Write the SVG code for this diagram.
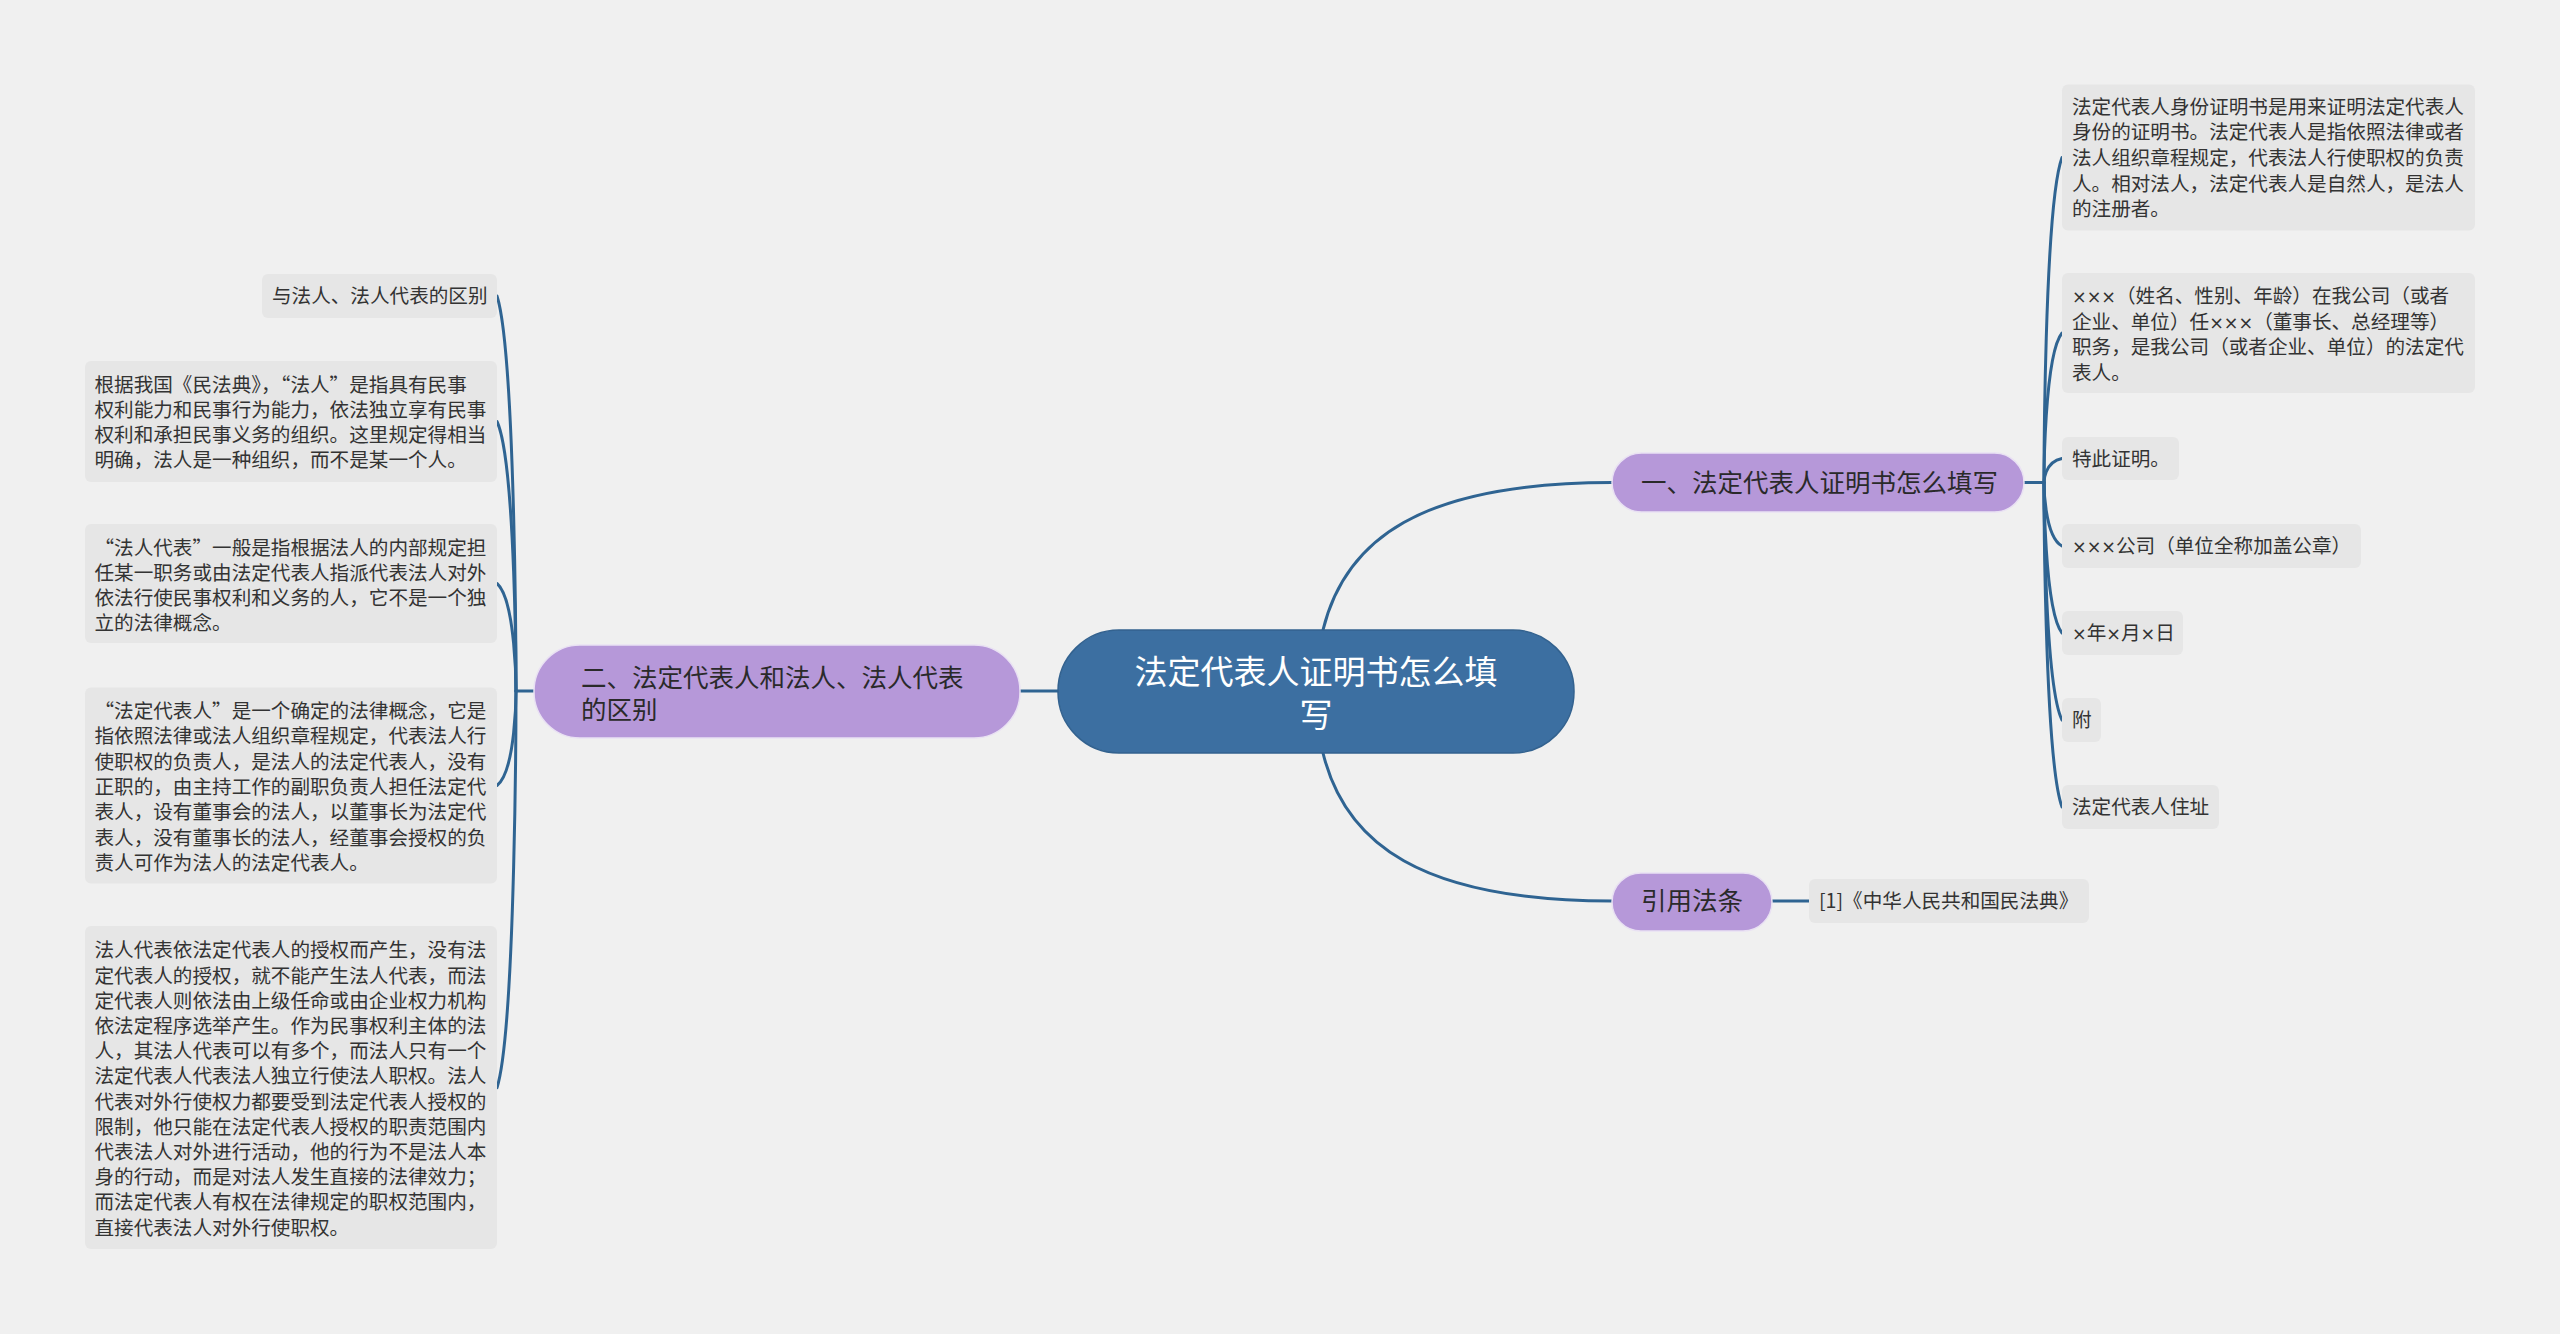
<svg xmlns="http://www.w3.org/2000/svg" width="2560" height="1334" viewBox="0 0 2560 1334">
<style>
.bg{fill:#f0f0f0}
.edge{fill:none;stroke:#2f6492;stroke-width:3;stroke-linecap:round}
.leaf{fill:#e6e6e6}
.lt{font-family:"Noto Sans CJK SC","Microsoft YaHei",sans-serif;font-size:19.6px;fill:#333333;font-feature-settings:"chws" 0,"halt" 0}
.x{font-family:"DejaVu Sans",sans-serif;font-size:17.5px}
.main{fill:#b698d9;stroke:#e9e1f3;stroke-width:1.5}
.mt{font-family:"Noto Sans CJK SC","Microsoft YaHei",sans-serif;font-size:25.5px;fill:#2a2a2a}
.root{fill:#3c6fa1;stroke:#33628f;stroke-width:1.5}
.rt{font-family:"Noto Sans CJK SC","Microsoft YaHei",sans-serif;font-size:33px;fill:#ffffff;text-anchor:middle}
</style>
<rect class="bg" x="0" y="0" width="2560" height="1334"/>

<g id="connectors">
<path class="edge" d="M1058 691H1020"/>
<path class="edge" d="M534 691H516"/>
<path class="edge" d="M516 691C516 691 516 355 497 296"/>
<path class="edge" d="M516 691C516 691 516 462 497 421.5"/>
<path class="edge" d="M516 691C516 691 516 600 497 583.5"/>
<path class="edge" d="M516 691C516 691 516 771 497 785.5"/>
<path class="edge" d="M516 691C516 691 516 1028 497 1087.7"/>
<path class="edge" d="M1323 630C1345 540 1420 482.5 1612 482.5"/>
<path class="edge" d="M1323 753C1345 843 1420 901 1612 901"/>
<path class="edge" d="M2024 482.5H2044"/>
<path class="edge" d="M2044 482.5C2044 482.5 2044 206 2062 157.5"/>
<path class="edge" d="M2044 482.5C2044 482.5 2044 355 2062 333"/>
<path class="edge" d="M2044 482.5C2044 482.5 2044 462 2062 458.5"/>
<path class="edge" d="M2044 482.5C2044 482.5 2044 536.5 2062 546"/>
<path class="edge" d="M2044 482.5C2044 482.5 2044 610 2062 633"/>
<path class="edge" d="M2044 482.5C2044 482.5 2044 684 2062 720"/>
<path class="edge" d="M2044 482.5C2044 482.5 2044 758 2062 807"/>
<path class="edge" d="M1772 901H1809"/>
</g>

<g id="root">
<rect class="root" x="1058" y="630" width="516" height="123" rx="61" ry="61"/>
<text class="rt" x="1316" y="684">法定代表人证明书怎么填</text>
<text class="rt" x="1316" y="727">写</text>
</g>

<g id="main-left">
<rect class="main" x="534" y="645" width="486" height="93" rx="46" ry="46"/>
<text class="mt" x="581" y="687">二、法定代表人和法人、法人代表</text>
<text class="mt" x="581" y="719">的区别</text>
</g>

<g id="main-right">
<rect class="main" x="1612" y="453" width="412" height="59" rx="29.5" ry="29.5"/>
<text class="mt" x="1641" y="492">一、法定代表人证明书怎么填写</text>
</g>

<g id="main-ref">
<rect class="main" x="1612" y="873" width="160" height="58" rx="29" ry="29"/>
<text class="mt" x="1692" y="910" text-anchor="middle">引用法条</text>
</g>

<g id="leaf-l1">
<rect class="leaf" x="262" y="274" width="235" height="44" rx="6"/>
<text class="lt" x="272" y="303">与法人、法人代表的区别</text>
</g>

<g id="leaf-l2">
<rect class="leaf" x="85" y="361" width="412" height="121" rx="6"/>
<text class="lt" x="94.5" y="392">根据我国《民法典》，“法人”是指具有民事</text>
<text class="lt" x="94.5" y="417">权利能力和民事行为能力，依法独立享有民事</text>
<text class="lt" x="94.5" y="442">权利和承担民事义务的组织。这里规定得相当</text>
<text class="lt" x="94.5" y="467">明确，法人是一种组织，而不是某一个人。</text>
</g>

<g id="leaf-l3">
<rect class="leaf" x="85" y="524" width="412" height="119" rx="6"/>
<text class="lt" x="94.5" y="555">“法人代表”一般是指根据法人的内部规定担</text>
<text class="lt" x="94.5" y="580">任某一职务或由法定代表人指派代表法人对外</text>
<text class="lt" x="94.5" y="605">依法行使民事权利和义务的人，它不是一个独</text>
<text class="lt" x="94.5" y="630">立的法律概念。</text>
</g>

<g id="leaf-l4">
<rect class="leaf" x="85" y="687.5" width="412" height="196" rx="6"/>
<text class="lt" x="94.5" y="718">“法定代表人”是一个确定的法律概念，它是</text>
<text class="lt" x="94.5" y="743.3">指依照法律或法人组织章程规定，代表法人行</text>
<text class="lt" x="94.5" y="768.6">使职权的负责人，是法人的法定代表人，没有</text>
<text class="lt" x="94.5" y="793.9">正职的，由主持工作的副职负责人担任法定代</text>
<text class="lt" x="94.5" y="819.2">表人，设有董事会的法人，以董事长为法定代</text>
<text class="lt" x="94.5" y="844.5">表人，没有董事长的法人，经董事会授权的负</text>
<text class="lt" x="94.5" y="869.8">责人可作为法人的法定代表人。</text>
</g>

<g id="leaf-l5">
<rect class="leaf" x="85" y="926" width="412" height="323" rx="6"/>
<text class="lt" x="94.5" y="957.4">法人代表依法定代表人的授权而产生，没有法</text>
<text class="lt" x="94.5" y="982.6">定代表人的授权，就不能产生法人代表，而法</text>
<text class="lt" x="94.5" y="1007.8">定代表人则依法由上级任命或由企业权力机构</text>
<text class="lt" x="94.5" y="1033">依法定程序选举产生。作为民事权利主体的法</text>
<text class="lt" x="94.5" y="1058.2">人，其法人代表可以有多个，而法人只有一个</text>
<text class="lt" x="94.5" y="1083.4">法定代表人代表法人独立行使法人职权。法人</text>
<text class="lt" x="94.5" y="1108.6">代表对外行使权力都要受到法定代表人授权的</text>
<text class="lt" x="94.5" y="1133.8">限制，他只能在法定代表人授权的职责范围内</text>
<text class="lt" x="94.5" y="1159">代表法人对外进行活动，他的行为不是法人本</text>
<text class="lt" x="94.5" y="1184.2">身的行动，而是对法人发生直接的法律效力；</text>
<text class="lt" x="94.5" y="1209.4">而法定代表人有权在法律规定的职权范围内，</text>
<text class="lt" x="94.5" y="1234.6">直接代表法人对外行使职权。</text>
</g>

<g id="leaf-r1">
<rect class="leaf" x="2062" y="84.5" width="413" height="146" rx="6"/>
<text class="lt" x="2072" y="113.7">法定代表人身份证明书是用来证明法定代表人</text>
<text class="lt" x="2072" y="139.3">身份的证明书。法定代表人是指依照法律或者</text>
<text class="lt" x="2072" y="165">法人组织章程规定，代表法人行使职权的负责</text>
<text class="lt" x="2072" y="190.6">人。相对法人，法定代表人是自然人，是法人</text>
<text class="lt" x="2072" y="216.3">的注册者。</text>
</g>

<g id="leaf-r2">
<rect class="leaf" x="2062" y="273" width="413" height="120" rx="6"/>
<text class="lt" x="2072" y="303"><tspan class="x">×××</tspan>（姓名、性别、年龄）在我公司（或者</text>
<text class="lt" x="2072" y="328.7">企业、单位）任<tspan class="x">×××</tspan>（董事长、总经理等）</text>
<text class="lt" x="2072" y="354.3">职务，是我公司（或者企业、单位）的法定代</text>
<text class="lt" x="2072" y="379.7">表人。</text>
</g>

<g id="leaf-r3">
<rect class="leaf" x="2062" y="437" width="117" height="43" rx="6"/>
<text class="lt" x="2072" y="465.5">特此证明。</text>
</g>

<g id="leaf-r4">
<rect class="leaf" x="2062" y="524" width="299" height="44" rx="6"/>
<text class="lt" x="2072" y="553"><tspan class="x">×××</tspan>公司（单位全称加盖公章）</text>
</g>

<g id="leaf-r5">
<rect class="leaf" x="2062" y="611" width="121" height="44" rx="6"/>
<text class="lt" x="2072" y="640"><tspan class="x">×</tspan>年<tspan class="x">×</tspan>月<tspan class="x">×</tspan>日</text>
</g>

<g id="leaf-r6">
<rect class="leaf" x="2062" y="698" width="39" height="44" rx="6"/>
<text class="lt" x="2072" y="727">附</text>
</g>

<g id="leaf-r7">
<rect class="leaf" x="2062" y="785" width="157" height="44" rx="6"/>
<text class="lt" x="2072" y="814">法定代表人住址</text>
</g>

<g id="leaf-ref">
<rect class="leaf" x="1809" y="879" width="280" height="44" rx="6"/>
<text class="lt" x="1819" y="908">[1]《中华人民共和国民法典》</text>
</g>
</svg>
